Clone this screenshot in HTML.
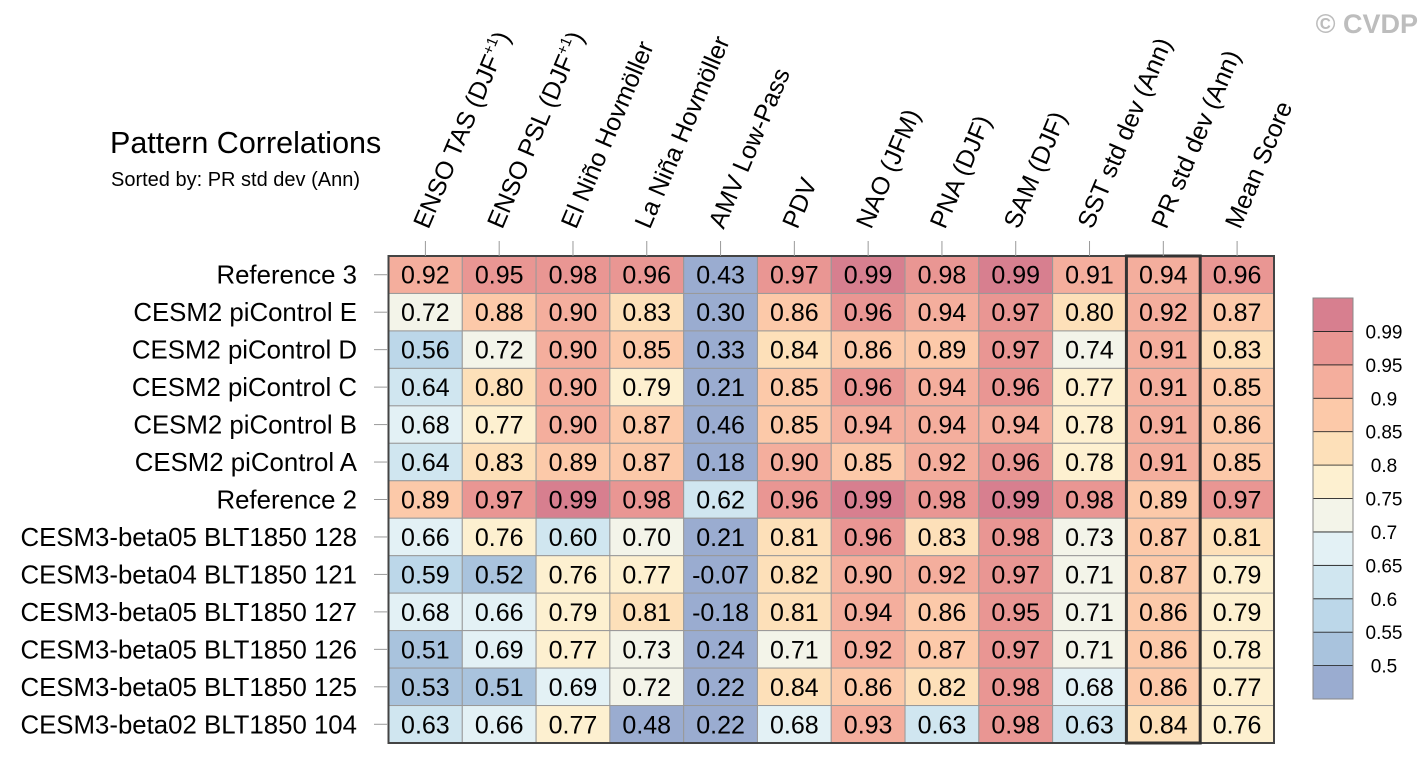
<!DOCTYPE html>
<html><head><meta charset="utf-8"><style>
html,body{margin:0;padding:0;background:#fff;}
svg{display:block;font-family:"Liberation Sans",Arial,sans-serif;}
</style></head><body>
<svg id="chart" width="1423" height="764" viewBox="0 0 1423 764">
<text x="1418" y="33" text-anchor="end" font-size="27" font-weight="bold" fill="#bdbdbd">© CVDP</text>
<text x="110" y="153" font-size="30.5" fill="#000">Pattern Correlations</text>
<text x="111" y="186" font-size="20" fill="#000">Sorted by: PR std dev (Ann)</text>
<g id="cells"></g>
<g id="labels"></g>
<g id="cbar"></g>
</svg>
<script>
const columns = ["ENSO TAS (DJF+1)","ENSO PSL (DJF+1)","El Niño Hovmöller","La Niña Hovmöller","AMV Low-Pass","PDV","NAO (JFM)","PNA (DJF)","SAM (DJF)","SST std dev (Ann)","PR std dev (Ann)","Mean Score"];
const rows = ["Reference 3","CESM2 piControl E","CESM2 piControl D","CESM2 piControl C","CESM2 piControl B","CESM2 piControl A","Reference 2","CESM3-beta05 BLT1850 128","CESM3-beta04 BLT1850 121","CESM3-beta05 BLT1850 127","CESM3-beta05 BLT1850 126","CESM3-beta05 BLT1850 125","CESM3-beta02 BLT1850 104"];
const values = [
[0.92,0.95,0.98,0.96,0.43,0.97,0.99,0.98,0.99,0.91,0.94,0.96],
[0.72,0.88,0.90,0.83,0.30,0.86,0.96,0.94,0.97,0.80,0.92,0.87],
[0.56,0.72,0.90,0.85,0.33,0.84,0.86,0.89,0.97,0.74,0.91,0.83],
[0.64,0.80,0.90,0.79,0.21,0.85,0.96,0.94,0.96,0.77,0.91,0.85],
[0.68,0.77,0.90,0.87,0.46,0.85,0.94,0.94,0.94,0.78,0.91,0.86],
[0.64,0.83,0.89,0.87,0.18,0.90,0.85,0.92,0.96,0.78,0.91,0.85],
[0.89,0.97,0.99,0.98,0.62,0.96,0.99,0.98,0.99,0.98,0.89,0.97],
[0.66,0.76,0.60,0.70,0.21,0.81,0.96,0.83,0.98,0.73,0.87,0.81],
[0.59,0.52,0.76,0.77,-0.07,0.82,0.90,0.92,0.97,0.71,0.87,0.79],
[0.68,0.66,0.79,0.81,-0.18,0.81,0.94,0.86,0.95,0.71,0.86,0.79],
[0.51,0.69,0.77,0.73,0.24,0.71,0.92,0.87,0.97,0.71,0.86,0.78],
[0.53,0.51,0.69,0.72,0.22,0.84,0.86,0.82,0.98,0.68,0.86,0.77],
[0.63,0.66,0.77,0.48,0.22,0.68,0.93,0.63,0.98,0.63,0.84,0.76]];
const levels = [0.5,0.55,0.6,0.65,0.7,0.75,0.8,0.85,0.9,0.95,0.99];
const levelLabels = ["0.5","0.55","0.6","0.65","0.7","0.75","0.8","0.85","0.9","0.95","0.99"];
const palette = ["#9aacd0","#a9c3dd","#bcd7e9","#d0e6f0","#e3f1f5","#f3f4e9","#fdf0d0","#fde0b9","#fcc9a9","#f4ae9d","#e99693","#d77f8f"];
const highlightCol = 10;

const NS="http://www.w3.org/2000/svg";
const X0=388.5, X1=1274, Y0=256, Y1=743;
const cw=(X1-X0)/columns.length, rh=(Y1-Y0)/rows.length;
const xOf=i=>X0+i*cw, yOf=j=>Y0+j*rh;
function colorOf(v){let k=0;while(k<levels.length&&v>=levels[k]-1e-9)k++;return palette[k];}
function mk(tag,attrs,parent){const e=document.createElementNS(NS,tag);for(const k in attrs)e.setAttribute(k,attrs[k]);parent.appendChild(e);return e;}
const cells=document.getElementById('cells'), labels=document.getElementById('labels'), cbar=document.getElementById('cbar');

values.forEach((row,j)=>row.forEach((v,i)=>{
  const r=mk('rect',{x:xOf(i),y:yOf(j),width:cw,height:rh,fill:colorOf(v),stroke:'#999','stroke-width':1},cells);
  
  
  const t=mk('text',{x:xOf(i)+cw/2,y:yOf(j)+rh/2+9,'text-anchor':'middle','font-size':25,fill:'#000'},cells);
  t.textContent=v.toFixed(2);
  
  
}));
const fr=mk('rect',{x:X0,y:Y0,width:X1-X0,height:Y1-Y0,fill:'none',stroke:'#444','stroke-width':2},cells);


const hl=mk('rect',{x:xOf(highlightCol),y:Y0,width:cw,height:Y1-Y0,fill:'none',stroke:'#333','stroke-width':3},cells);



columns.forEach((c,i)=>{
  const cx=xOf(i)+cw/2;
  mk('line',{x1:cx,y1:241,x2:cx,y2:256,stroke:'#999','stroke-width':1},labels);
  const tx=cx+3, ty=230;
  const t=mk('text',{x:tx,y:ty,'font-size':25,fill:'#000',transform:`rotate(-67 ${tx} ${ty})`},labels);
  
  
  const m=c.match(/^(.*)\(DJF\+1\)$/);
  if(m){
    t.appendChild(document.createTextNode(m[1]+'(DJF'));
    const s=mk('tspan',{'font-size':15,dy:-10},t); s.textContent='+1';
    const s2=mk('tspan',{dy:10},t); s2.textContent=')';
  } else t.textContent=c;
});
rows.forEach((r,j)=>{
  const cy=yOf(j)+rh/2;
  mk('line',{x1:374,y1:cy,x2:388,y2:cy,stroke:'#999','stroke-width':1},labels);
  const t=mk('text',{x:357,y:cy+9,'text-anchor':'end','font-size':25.8,fill:'#000'},labels);
  t.textContent=r;
  
  
});

const CX=1313, CW=40, CY0=298, CY1=699, bh=(CY1-CY0)/palette.length;
palette.forEach((col,k)=>{
  const y=CY1-(k+1)*bh;
  const r=mk('rect',{x:CX,y:y,width:CW,height:bh,fill:col,stroke:'#222','stroke-width':0.8},cbar);
  
  
});
const cf=mk('rect',{x:CX,y:CY0,width:CW,height:CY1-CY0,fill:'none',stroke:'#888','stroke-width':1},cbar);


levelLabels.forEach((l,k)=>{
  const y=CY1-(k+1)*bh;
  const t=mk('text',{x:1384,y:y+7,'text-anchor':'middle','font-size':19,fill:'#000'},cbar);
  t.textContent=l;
  
  
});
</script>
</body></html>
